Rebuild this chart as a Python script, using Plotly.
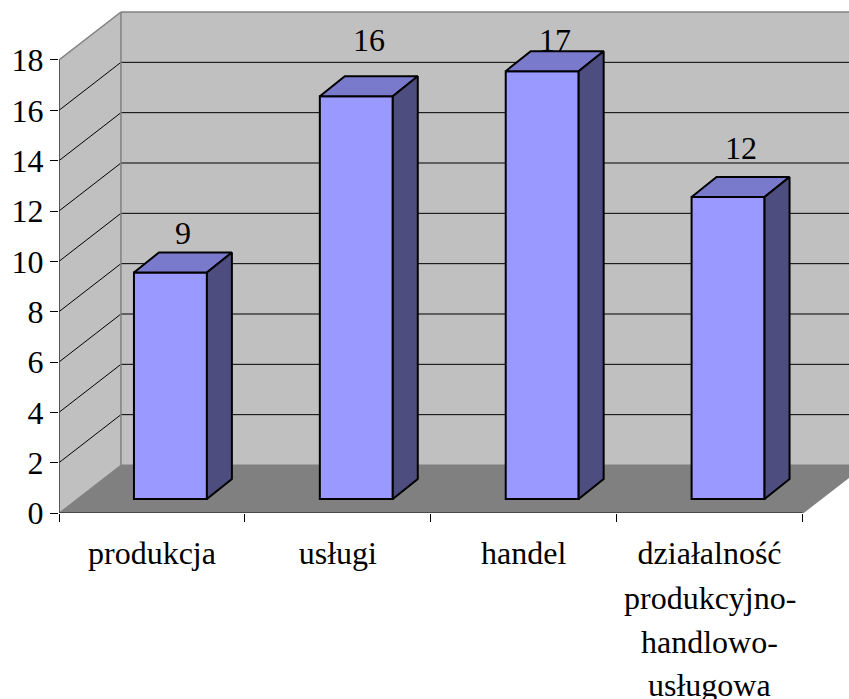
import plotly.graph_objects as go

# Data
categories = ["produkcja", "usługi", "handel", "działalność"]
extra_label_lines = [[], [], [], ["produkcyjno-", "handlowo-", "usługowa"]]
values = [9, 16, 17, 12]
y_ticks = list(range(0, 20, 2))

# Value-label placement: pixels above the bar top,
# or (for labels pinned near the chart top) pixels above the x axis.
label_lift_px = [20, None, None, 29]
label_pin_px = [None, 473, 473, None]

# Styling / pseudo-3D projection (axis units)
W, H = 849, 699
L, T, B = 58.5, 6, 186
px_x = 186.0
px_y = 25.167
xmax = (W - L) / px_x
ymax = (H - B - T) / px_y
DX, DY = 62 / px_x, 48 / px_y          # wall depth
FX, FY = 18.5 / px_x, 14 / px_y        # bar front offset
BW = 73 / px_x                          # bar width
BX, BY = 25 / px_x, 20 / px_y          # bar depth
FONT = "Liberation Serif"
FS = 32
EDGE = "#808080"

shapes = []
def poly(pts, fill):
    d = "M " + " L ".join(f"{x},{y}" for x, y in pts) + " Z"
    shapes.append(dict(type="path", path=d, xref="x", yref="y", layer="below",
                       fillcolor=fill, line=dict(color=fill, width=0)))
def seg(x0, y0, x1, y1, color, lw=1):
    shapes.append(dict(type="line", x0=x0, y0=y0, x1=x1, y1=y1, xref="x", yref="y",
                       layer="below", line=dict(color=color, width=lw)))

XR = 4 + DX
poly([(DX, DY), (XR, DY), (XR, 18 + DY), (DX, 18 + DY)], "#C0C0C0")
poly([(0, 0), (DX, DY), (DX, 18 + DY), (0, 18)], "#C0C0C0")
poly([(0, 0), (4, 0), (XR, DY), (DX, DY)], "#808080")
for v in y_ticks[1:-1]:
    seg(0, v, DX, v + DY, "black")
    seg(DX, v + DY, XR, v + DY, "black")
seg(0, 18, DX, 18 + DY, EDGE, 1.5)
seg(DX, 18 + DY, XR, 18 + DY, EDGE, 1.5)
seg(DX, DY, DX, 18 + DY, EDGE, 1.5)
seg(DX, DY, XR, DY, EDGE, 1)
seg(0, 0, DX, DY, EDGE, 1)
seg(4, 0, XR, DY, EDGE, 1.5)
seg(0, 0, 0, 18, "#333333", 1.5)
seg(0, 0, 4, 0, "#333333", 1.5)

fig = go.Figure()
xc = [i + 0.5 + FX for i in range(len(values))]
fig.add_trace(go.Bar(x=xc, y=values, base=[FY] * len(values), width=BW,
                     marker=dict(color="#9999FF", line=dict(color="black", width=2)),
                     hoverinfo="skip", showlegend=False))
for c, v in zip(xc, values):
    x0, x1 = c - BW / 2, c + BW / 2
    y0, y1 = FY, FY + v
    fig.add_trace(go.Scatter(
        x=[x0, x1, x1 + BX, x0 + BX, x0], y=[y1, y1, y1 + BY, y1 + BY, y1],
        fill="toself", fillcolor="#7A7ACC", mode="lines",
        line=dict(color="black", width=2), hoverinfo="skip", showlegend=False))
    fig.add_trace(go.Scatter(
        x=[x1, x1 + BX, x1 + BX, x1, x1], y=[y0, y0 + BY, y1 + BY, y1, y0],
        fill="toself", fillcolor="#4D4D80", mode="lines",
        line=dict(color="black", width=2), hoverinfo="skip", showlegend=False))

annotations = []
for i, v in enumerate(values):
    if label_pin_px[i] is None:
        y, shift = FY + v + BY, label_lift_px[i]
    else:
        y, shift = label_pin_px[i] / px_y, 0
    annotations.append(dict(x=i + 0.5 + DX / 2, y=y, yshift=shift, text=str(v), showarrow=False,
                            xref="x", yref="y", font=dict(family=FONT, size=FS, color="black")))
for i, lines in enumerate(extra_label_lines):
    for j, line in enumerate(lines):
        annotations.append(dict(x=i + 0.5, y=0, yref="paper", xref="x", yanchor="middle",
                                yshift=-(42 + 43.4 * (j + 1)), text=line, showarrow=False,
                                font=dict(family=FONT, size=FS, color="black")))

fig.update_layout(
    width=W, height=H, margin=dict(l=L, r=0, t=T, b=B, autoexpand=False),
    paper_bgcolor="white", plot_bgcolor="white", showlegend=False,
    shapes=shapes, annotations=annotations, barmode="overlay",
    font=dict(family=FONT, size=FS, color="black"),
    xaxis=dict(range=[0, xmax], tickmode="array", tickvals=[i + 0.5 for i in range(4)],
               ticktext=categories, ticks="", showgrid=False, zeroline=False, showline=False,
               ticklabelstandoff=18, tickangle=0,
               minor=dict(tickmode="array", tickvals=[0, 1, 2, 3, 4], ticks="outside",
                          ticklen=8, tickcolor="black", tickwidth=1, showgrid=False)),
    yaxis=dict(range=[0, ymax], tickmode="array", tickvals=y_ticks, ticks="outside", ticklen=8,
               tickcolor="black", tickwidth=1, showgrid=False, zeroline=False, showline=False),
)
fig.write_html("out.html", config={"displayModeBar": False},
               post_script="document.body.style.margin='0';document.body.style.overflow='hidden';")
